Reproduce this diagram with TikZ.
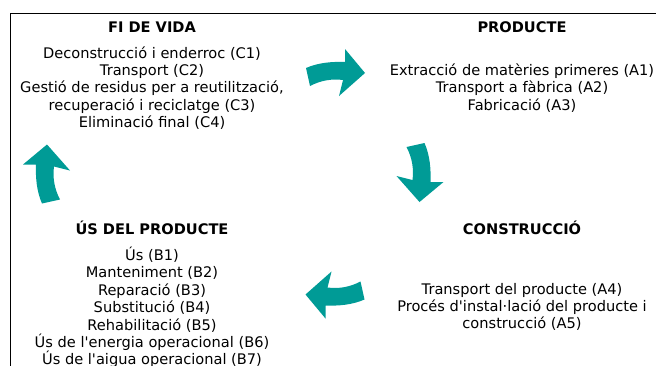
\documentclass[tikz,border=0pt]{standalone}
\usepackage{fontspec}
\setmainfont{DejaVu Sans}[Ligatures=TeXOff]
\definecolor{arrowteal}{RGB}{0,155,150}
\begin{document}
\begin{tikzpicture}[x=1pt,y=-1pt,
  title/.style={font=\fontsize{14.6}{17}\selectfont\bfseries, inner sep=0pt, anchor=center},
  body/.style={font=\fontsize{14.6}{17.4}\selectfont, inner sep=0pt, align=center, anchor=center},
  cyc/.style={fill=arrowteal, draw=none}]
\useasboundingbox (0,0) rectangle (656,365);
\draw[line width=1pt] (10,366) -- (10,13) -- (657,13);
% titles
\node[title] (tC) at (152,27) {FI DE VIDA};
\node[title] (tA) at (522,27) {PRODUCTE};
\node[title] (tB) at (152,228) {ÚS DEL PRODUCTE};
\node[title] (tA2) at (522,228) {CONSTRUCCIÓ};
% bodies
\node[body] (bC) at (152,88) {Deconstrucció i enderroc (C1)\\Transport (C2)\\Gestió de residus per a reutilització,\\recuperació i reciclatge (C3)\\Eliminació final (C4)};
\node[body] (bA) at (522,88) {Extracció de matèries primeres (A1)\\Transport a fàbrica (A2)\\Fabricació (A3)};
\node[body] (bB) at (152,307.5) {Ús (B1)\\Manteniment (B2)\\Reparació (B3)\\Substitució (B4)\\Rehabilitació (B5)\\Ús de l'energia operacional (B6)\\Ús de l'aigua operacional (B7)};
\node[body] (bA2) at (522,307) {Transport del producte (A4)\\Procés d'instal·lació del producte i\\construcció (A5)};
% cycle arrows
\def\cyclearrow{(-29.5,-4.5) .. controls (-17,-10) and (-3,-11) .. (9.5,-10.5) -- (9.5,-23.5) -- (29.5,0.5) -- (3.5,23.5) -- (7.5,7.5) .. controls (-4,6) and (-15,8) .. (-25.5,13.5) -- cycle}
\begin{scope}[shift={(335.5,72.5)}]
  \fill[arrowteal] \cyclearrow;
\end{scope}
\begin{scope}[shift={(420,172.5)},rotate=-90]
  \fill[arrowteal] \cyclearrow;
\end{scope}
\begin{scope}[shift={(335,295)},rotate=180]
  \fill[arrowteal] \cyclearrow;
\end{scope}
\begin{scope}[shift={(46.5,174)},rotate=90]
  \fill[arrowteal] \cyclearrow;
\end{scope}
\end{tikzpicture}
\end{document}
